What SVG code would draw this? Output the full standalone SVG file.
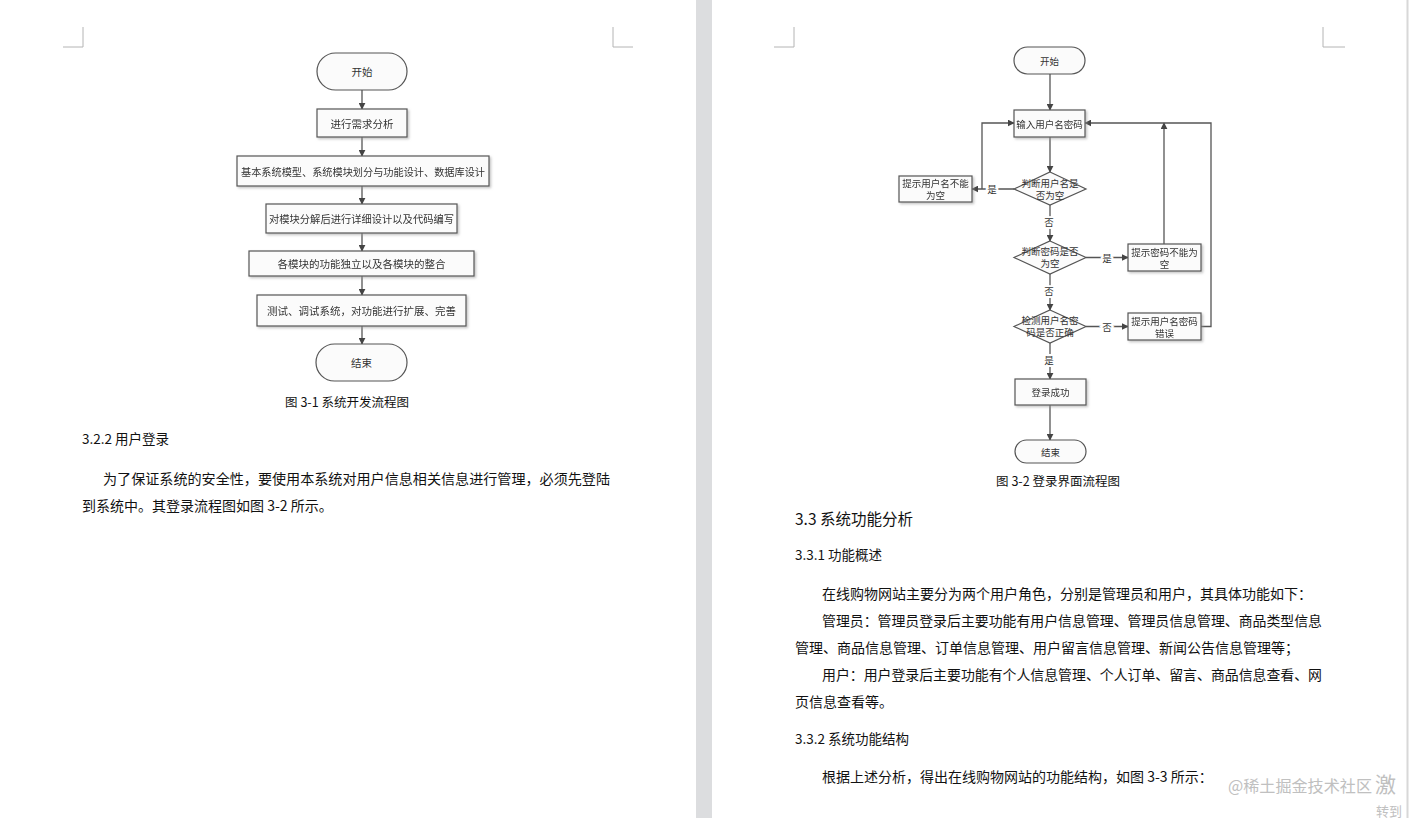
<svg xmlns="http://www.w3.org/2000/svg" width="1409" height="818" viewBox="0 0 1409 818">
<style>
.page{fill:#ffffff}
.gap{fill:#dcdddf}
.crn{stroke:#b4b4b4;stroke-width:1;fill:none}
.n{fill:#fbfbfb;stroke:#555;stroke-width:1.2}
.t{font-family:"Noto Sans CJK SC","Noto Sans",sans-serif;fill:#333;text-anchor:middle;dominant-baseline:central}
.t1{font-size:10.5px}
.t2{font-size:9.5px}
.c{stroke:#555;stroke-width:1.3;fill:none}
.lbl{font-family:"Noto Sans CJK SC",sans-serif;font-size:9.5px;fill:#333;text-anchor:middle;dominant-baseline:central;stroke:#fff;stroke-width:4;paint-order:stroke}
.b{font-family:"Noto Sans CJK SC","Noto Sans",sans-serif;fill:#111;font-size:14px}
.h{font-family:"Noto Sans CJK SC","Noto Sans",sans-serif;fill:#111;font-size:13.5px}
.cap{font-family:"Noto Sans CJK SC","Noto Sans",sans-serif;fill:#111;font-size:12.5px;text-anchor:middle}
.wm{font-family:"Noto Sans CJK SC",sans-serif;fill:#c0c0c0}
</style>
<defs>
<marker id="ar" viewBox="0 0 10 10" refX="9" refY="5" markerWidth="7" markerHeight="7" orient="auto" markerUnits="userSpaceOnUse">
<path d="M0,0 L10,5 L0,10 z" fill="#444"/>
</marker>
<filter id="sh" x="-10%" y="-10%" width="130%" height="140%">
<feDropShadow dx="1.5" dy="1.5" stdDeviation="0.8" flood-color="#999" flood-opacity="0.6"/>
</filter>
</defs>

<rect class="page" x="0" y="0" width="1409" height="818"/>
<rect class="gap" x="696" y="0" width="16" height="818"/>
<line x1="1407.5" y1="0" x2="1407.5" y2="818" stroke="#d8d8d8" stroke-width="2"/>

<!-- corner marks -->
<path class="crn" d="M83,27 V47 H63"/>
<path class="crn" d="M613,27 V47 H633"/>
<path class="crn" d="M794,27 V47 H774"/>
<path class="crn" d="M1323,27 V47 H1345"/>

<!-- ===== Left flowchart ===== -->
<g id="connectors-left">
<line class="c" x1="362" y1="90" x2="362" y2="109" marker-end="url(#ar)"/>
<line class="c" x1="362" y1="137" x2="362" y2="156" marker-end="url(#ar)"/>
<line class="c" x1="362" y1="186" x2="362" y2="204" marker-end="url(#ar)"/>
<line class="c" x1="362" y1="233" x2="362" y2="251" marker-end="url(#ar)"/>
<line class="c" x1="362" y1="276" x2="362" y2="295" marker-end="url(#ar)"/>
<line class="c" x1="362" y1="326" x2="362" y2="344" marker-end="url(#ar)"/>
</g>
<g id="l-start"><rect class="n" x="317" y="53" width="90" height="37" rx="18.5"/><text class="t t1" x="362" y="71.5">开始</text></g>
<g id="l-n1" filter="url(#sh)"><rect class="n" x="317" y="109" width="90" height="28"/><text class="t t1" x="362" y="123">进行需求分析</text></g>
<g id="l-n2" filter="url(#sh)"><rect class="n" x="237" y="156" width="252" height="30"/><text class="t t1" x="363" y="171" textLength="244" lengthAdjust="spacingAndGlyphs">基本系统模型、系统模块划分与功能设计、数据库设计</text></g>
<g id="l-n3" filter="url(#sh)"><rect class="n" x="266" y="204" width="191" height="29"/><text class="t t1" x="361.5" y="218.5" textLength="185" lengthAdjust="spacingAndGlyphs">对模块分解后进行详细设计以及代码编写</text></g>
<g id="l-n4" filter="url(#sh)"><rect class="n" x="249" y="251" width="225" height="25"/><text class="t t1" x="361.5" y="263.5">各模块的功能独立以及各模块的整合</text></g>
<g id="l-n5" filter="url(#sh)"><rect class="n" x="257" y="295" width="209" height="31"/><text class="t t1" x="361.5" y="310.5">测试、调试系统，对功能进行扩展、完善</text></g>
<g id="l-end"><rect class="n" x="316" y="344" width="91" height="37" rx="18.5"/><text class="t t1" x="361.5" y="362.5">结束</text></g>
<text class="cap" x="347" y="407">图 3-1 系统开发流程图</text>

<!-- left page text -->
<text class="h" x="82" y="444">3.2.2 用户登录</text>
<text class="b" x="103" y="484" textLength="507" lengthAdjust="spacingAndGlyphs">为了保证系统的安全性，要使用本系统对用户信息相关信息进行管理，必须先登陆</text>
<text class="b" x="82" y="511">到系统中。其登录流程图如图 3-2 所示。</text>

<!-- ===== Right flowchart ===== -->
<g id="connectors-right">
<line class="c" x1="1050" y1="74" x2="1050" y2="110" marker-end="url(#ar)"/>
<line class="c" x1="1050" y1="137" x2="1050" y2="172" marker-end="url(#ar)"/>
<line class="c" x1="1014" y1="189" x2="972" y2="189" marker-end="url(#ar)"/>
<polyline class="c" points="982,189 982,123 1014,123" marker-end="url(#ar)"/>
<line class="c" x1="1050" y1="205" x2="1050" y2="241" marker-end="url(#ar)"/>
<line class="c" x1="1086" y1="257.5" x2="1128" y2="257.5" marker-end="url(#ar)"/>
<line class="c" x1="1164" y1="244" x2="1164" y2="123" marker-end="url(#ar)"/>
<line class="c" x1="1050" y1="274" x2="1050" y2="310" marker-end="url(#ar)"/>
<line class="c" x1="1086" y1="326.5" x2="1128" y2="326.5" marker-end="url(#ar)"/>
<polyline class="c" points="1201,326.5 1211,326.5 1211,123 1085,123" marker-end="url(#ar)"/>
<line class="c" x1="1050" y1="343" x2="1050" y2="379" marker-end="url(#ar)"/>
<line class="c" x1="1050" y1="405" x2="1050" y2="440" marker-end="url(#ar)"/>
<text class="lbl" x="992" y="189">是</text>
<text class="lbl" x="1049" y="222">否</text>
<text class="lbl" x="1107" y="257.5">是</text>
<text class="lbl" x="1049" y="291">否</text>
<text class="lbl" x="1107" y="326.5">否</text>
<text class="lbl" x="1049" y="360">是</text>
</g>
<g id="r-start"><rect class="n" x="1014" y="47" width="71" height="27" rx="13.5"/><text class="t t2" x="1049.5" y="60.5">开始</text></g>
<g id="r-input" filter="url(#sh)"><rect class="n" x="1014" y="110" width="71" height="27"/><text class="t t2" x="1049.5" y="123.5">输入用户名密码</text></g>
<g id="r-d1"><polygon class="n" points="1050,172 1086,189 1050,205 1014,189"/><text class="t t2" x="1050" y="183">判断用户名是</text><text class="t t2" x="1050" y="195">否为空</text></g>
<g id="r-e1" filter="url(#sh)"><rect class="n" x="899" y="176" width="73" height="26"/><text class="t t2" x="935.5" y="183">提示用户名不能</text><text class="t t2" x="935.5" y="195">为空</text></g>
<g id="r-d2"><polygon class="n" points="1050,241 1086,257.5 1050,274 1014,257.5"/><text class="t t2" x="1050" y="251">判断密码是否</text><text class="t t2" x="1050" y="263">为空</text></g>
<g id="r-e2" filter="url(#sh)"><rect class="n" x="1128" y="244" width="73" height="27"/><text class="t t2" x="1164.5" y="251.5">提示密码不能为</text><text class="t t2" x="1164.5" y="263.5">空</text></g>
<g id="r-d3"><polygon class="n" points="1050,310 1086,326.5 1050,343 1014,326.5"/><text class="t t2" x="1050" y="320">检测用户名密</text><text class="t t2" x="1050" y="332">码是否正确</text></g>
<g id="r-e3" filter="url(#sh)"><rect class="n" x="1128" y="313" width="73" height="27"/><text class="t t2" x="1164.5" y="320.5">提示用户名密码</text><text class="t t2" x="1164.5" y="332.5">错误</text></g>
<g id="r-ok" filter="url(#sh)"><rect class="n" x="1015" y="379" width="71" height="26"/><text class="t t2" x="1050.5" y="392">登录成功</text></g>
<g id="r-end"><rect class="n" x="1015" y="440" width="71" height="23" rx="11.5"/><text class="t t2" x="1050.5" y="451.5">结束</text></g>
<text class="cap" x="1058" y="486">图 3-2 登录界面流程图</text>

<!-- right page text -->
<text class="b" x="795" y="525" style="font-size:15.5px">3.3 系统功能分析</text>
<text class="h" x="795" y="560">3.3.1 功能概述</text>
<text class="b" x="822" y="599">在线购物网站主要分为两个用户角色，分别是管理员和用户，其具体功能如下：</text>
<text class="b" x="822" y="626" textLength="500" lengthAdjust="spacingAndGlyphs">管理员：管理员登录后主要功能有用户信息管理、管理员信息管理、商品类型信息</text>
<text class="b" x="795" y="653">管理、商品信息管理、订单信息管理、用户留言信息管理、新闻公告信息管理等；</text>
<text class="b" x="822" y="680" textLength="500" lengthAdjust="spacingAndGlyphs">用户：用户登录后主要功能有个人信息管理、个人订单、留言、商品信息查看、网</text>
<text class="b" x="795" y="707">页信息查看等。</text>
<text class="h" x="795" y="744">3.3.2 系统功能结构</text>
<text class="b" x="822" y="782">根据上述分析，得出在线购物网站的功能结构，如图 3-3 所示：</text>

<!-- watermarks -->
<text class="wm" x="1228" y="792" font-size="16" textLength="144" lengthAdjust="spacingAndGlyphs">@稀土掘金技术社区</text>
<text class="wm" x="1375" y="792" font-size="21">激</text>
<text class="wm" x="1376" y="816" font-size="13">转到</text>
</svg>
